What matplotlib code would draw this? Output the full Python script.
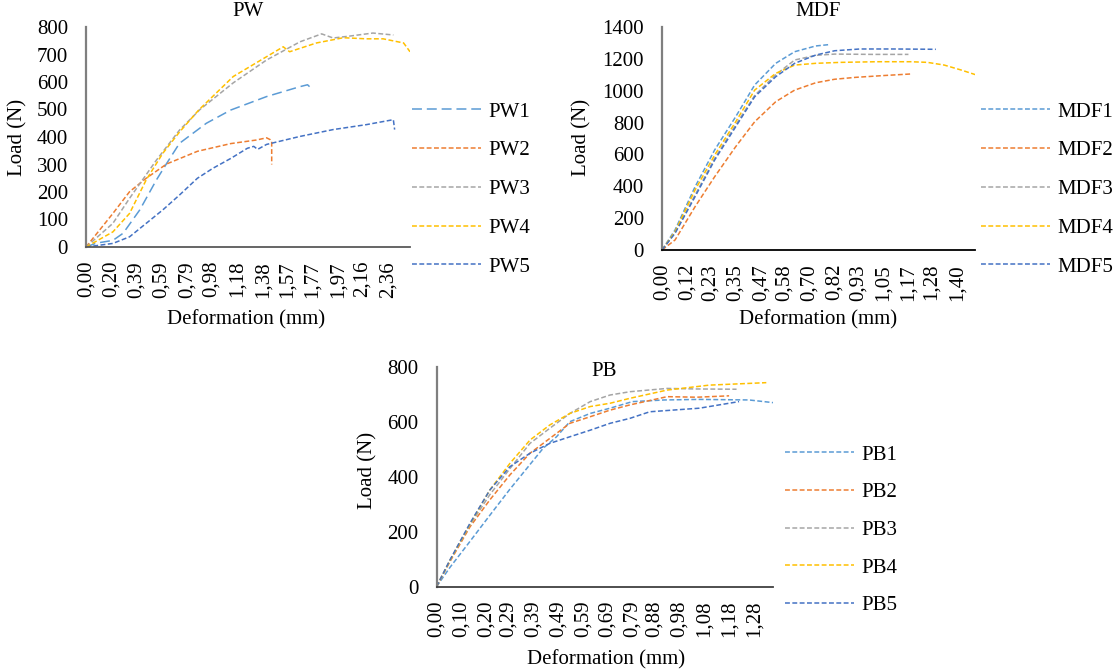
import matplotlib
matplotlib.use("Agg")
import matplotlib.pyplot as plt

plt.rcParams['font.family'] = ['Liberation Serif', 'DejaVu Serif']

colors = ["#5B9BD5", "#ED7D31", "#A5A5A5", "#FFC000", "#4472C4"]

# ---- PW data (deformation mm, load N)
pw_names = ["PW1", "PW2", "PW3", "PW4", "PW5"]
pw1_x = [0, 0.08, 0.21, 0.29, 0.42, 0.55, 0.63, 0.73, 0.94, 1.13, 1.41, 1.67, 1.73, 1.77]
pw1_y = [0, 14, 24, 50, 135, 244, 304, 377, 450, 498, 547, 583, 590, 572]
pw2_x = [0, 0.21, 0.34, 0.47, 0.63, 0.87, 1.13, 1.33, 1.41, 1.44, 1.45, 1.45]
pw2_y = [0, 122, 201, 250, 302, 348, 376, 389, 397, 390, 385, 300]
pw3_x = [0, 0.21, 0.34, 0.55, 0.73, 0.89, 1.15, 1.41, 1.67, 1.84, 1.93, 2.06, 2.24, 2.40]
pw3_y = [0, 86, 177, 316, 425, 500, 597, 680, 746, 775, 760, 767, 778, 771]
pw4_x = [0, 0.21, 0.34, 0.47, 0.60, 0.73, 0.88, 1.15, 1.41, 1.54, 1.59, 1.80, 2.01, 2.19, 2.32, 2.48, 2.53]
pw4_y = [0, 55, 122, 244, 341, 418, 498, 620, 692, 728, 710, 742, 761, 757, 757, 742, 710]
pw5_x = [0, 0.21, 0.34, 0.47, 0.60, 0.73, 0.87, 0.99, 1.13, 1.26, 1.31, 1.34, 1.41, 1.67, 1.93, 2.19, 2.40, 2.41]
pw5_y = [0, 13, 37, 86, 135, 189, 250, 286, 322, 359, 366, 355, 373, 402, 427, 445, 463, 427]
pw_ticks = ["0,00", "0,20", "0,39", "0,59", "0,79", "0,98", "1,18", "1,38",
            "1,57", "1,77", "1,97", "2,16", "2,36"]

# ---- MDF data
mdf_names = ["MDF1", "MDF2", "MDF3", "MDF4", "MDF5"]
mdf1_x = [0, 0.062, 0.157, 0.25, 0.35, 0.44, 0.54, 0.63, 0.73, 0.79]
mdf1_y = [0, 126, 397, 628, 837, 1036, 1172, 1245, 1281, 1289]
mdf2_x = [0, 0.062, 0.157, 0.25, 0.35, 0.44, 0.54, 0.63, 0.73, 0.82, 0.92, 1.05, 1.18]
mdf2_y = [0, 63, 272, 460, 649, 805, 931, 1004, 1050, 1072, 1084, 1095, 1105]
mdf3_x = [0, 0.062, 0.157, 0.25, 0.35, 0.44, 0.54, 0.63, 0.73, 0.82, 1.0, 1.17]
mdf3_y = [0, 110, 345, 575, 785, 970, 1100, 1193, 1222, 1230, 1228, 1228]
mdf4_x = [0, 0.062, 0.157, 0.25, 0.35, 0.44, 0.54, 0.63, 0.73, 0.85, 1.02, 1.18, 1.26, 1.34, 1.42, 1.49]
mdf4_y = [0, 115, 377, 596, 805, 1004, 1109, 1161, 1172, 1178, 1182, 1182, 1178, 1161, 1130, 1100]
mdf5_x = [0, 0.062, 0.157, 0.25, 0.35, 0.44, 0.54, 0.63, 0.73, 0.82, 0.94, 1.10, 1.30]
mdf5_y = [0, 105, 335, 565, 774, 962, 1088, 1172, 1224, 1251, 1262, 1262, 1260]
mdf_ticks = ["0,00", "0,12", "0,23", "0,35", "0,47", "0,58", "0,70", "0,82",
             "0,93", "1,05", "1,17", "1,28", "1,40"]

# ---- PB data
pb_names = ["PB1", "PB2", "PB3", "PB4", "PB5"]
pb1_x = [0, 0.054, 0.135, 0.215, 0.296, 0.377, 0.43, 0.484, 0.538, 0.62, 0.70, 0.79, 0.92, 1.06, 1.26, 1.36]
pb1_y = [0, 70, 165, 260, 355, 445, 504, 546, 601, 631, 650, 674, 680, 682, 680, 670]
pb2_x = [0, 0.054, 0.135, 0.215, 0.296, 0.377, 0.457, 0.538, 0.62, 0.70, 0.78, 0.93, 1.05, 1.18]
pb2_y = [0, 91, 218, 316, 407, 486, 540, 595, 619, 643, 662, 692, 690, 695]
pb3_x = [0, 0.054, 0.135, 0.215, 0.296, 0.377, 0.457, 0.538, 0.62, 0.70, 0.78, 0.93, 1.05, 1.21]
pb3_y = [0, 95, 225, 335, 430, 522, 577, 631, 674, 698, 710, 722, 720, 719]
pb4_x = [0, 0.054, 0.135, 0.215, 0.296, 0.377, 0.457, 0.538, 0.62, 0.70, 0.78, 0.93, 1.10, 1.33]
pb4_y = [0, 95, 228, 352, 449, 534, 589, 631, 656, 668, 686, 716, 734, 743]
pb5_x = [0, 0.054, 0.135, 0.215, 0.296, 0.377, 0.457, 0.538, 0.62, 0.70, 0.78, 0.86, 1.06, 1.22]
pb5_y = [0, 97, 231, 352, 437, 486, 522, 546, 570, 595, 613, 637, 650, 674]
pb_ticks = ["0,00", "0,10", "0,20", "0,29", "0,39", "0,49", "0,59", "0,69",
            "0,79", "0,88", "0,98", "1,08", "1,18", "1,28"]

W, H = 1116, 672
fig = plt.figure(figsize=(W / 100, H / 100), dpi=100)
FS = 15


def px_rect(l, t, r, b):
    return [l / W, 1 - b / H, (r - l) / W, (b - t) / H]


def draw(rect, series, names, ticks, xmax, ymax, ystep, title, title_xy,
         ylab_xy, xlab_xy, leg_xy, leg_sp, bottom_col, long_first):
    ax = fig.add_axes(px_rect(*rect))
    for i, (x, y) in enumerate(series):
        dash = (6.5, 3.2) if (i == 0 and long_first) else (3.2, 1.6)
        ax.plot(x, y, color=colors[i], lw=1.1, dashes=dash, label=names[i])
    ax.set_xlim(0, xmax)
    ax.set_ylim(0, ymax)
    ax.set_xticks([float(t.replace(",", ".")) for t in ticks])
    ax.set_xticklabels(ticks, rotation=90)
    ax.set_yticks(range(0, ymax + 1, ystep))
    ax.tick_params(axis="x", length=0, pad=10, labelsize=FS)
    ax.tick_params(axis="y", length=0, pad=13, labelsize=FS)
    for s in ["top", "right"]:
        ax.spines[s].set_visible(False)
    ax.spines["left"].set_color("#7f7f7f")
    ax.spines["left"].set_linewidth(1.6)
    ax.spines["bottom"].set_color(bottom_col)
    ax.spines["bottom"].set_linewidth(1.3)
    fig.text(title_xy[0] / W, 1 - title_xy[1] / H, title, ha="center",
             va="center", fontsize=FS)
    fig.text(ylab_xy[0] / W, 1 - ylab_xy[1] / H, "Load (N)", rotation=90,
             ha="center", va="center", fontsize=FS)
    fig.text(xlab_xy[0] / W, 1 - xlab_xy[1] / H, "Deformation (mm)",
             ha="center", va="center", fontsize=FS)
    ax.legend(loc="upper left", bbox_to_anchor=(leg_xy[0] / W, 1 - leg_xy[1] / H),
              bbox_transform=fig.transFigure, frameon=False, fontsize=FS,
              borderpad=0, borderaxespad=0, handlelength=3.3,
              handletextpad=0.38, labelspacing=leg_sp)
    return ax


draw((86, 27, 410, 247),
     [(pw1_x, pw1_y), (pw2_x, pw2_y), (pw3_x, pw3_y), (pw4_x, pw4_y), (pw5_x, pw5_y)],
     pw_names, pw_ticks, 2.53, 800, 100, "PW", (248, 12), (18, 137), (246, 320),
     (412, 102), 0.92, "#595959", True)

draw((662, 27, 975, 250),
     [(mdf1_x, mdf1_y), (mdf2_x, mdf2_y), (mdf3_x, mdf3_y), (mdf4_x, mdf4_y), (mdf5_x, mdf5_y)],
     mdf_names, mdf_ticks, 1.486, 1400, 200, "MDF", (818, 12), (582, 137), (818, 320),
     (981, 102), 0.92, "#000000", False)

draw((436.5, 367, 773, 586.7),
     [(pb1_x, pb1_y), (pb2_x, pb2_y), (pb3_x, pb3_y), (pb4_x, pb4_y), (pb5_x, pb5_y)],
     pb_names, pb_ticks, 1.357, 800, 200, "PB", (604, 372), (368, 470), (606, 660),
     (785, 445), 0.87, "#404040", False)

fig.savefig("out.png", dpi=100)
